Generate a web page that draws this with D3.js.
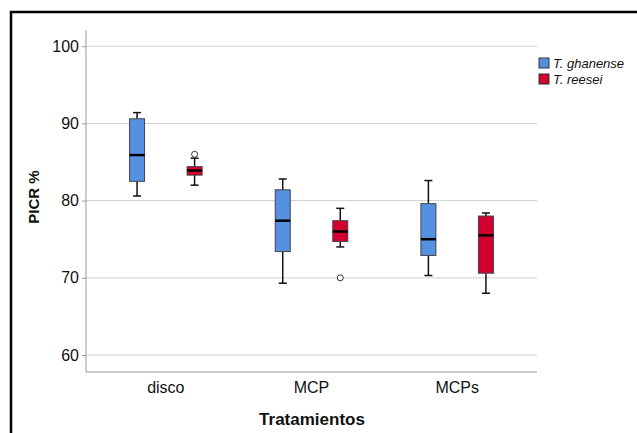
<!DOCTYPE html>
<html>
<head>
<meta charset="utf-8">
<script src="https://cdn.jsdelivr.net/npm/d3@7"></script>
<style>
  body { margin: 0; background: #fff; }
  text { font-family: "Liberation Sans", Arial, sans-serif; fill: #111; }
  .grid line { stroke: #d0d0d0; stroke-width: 1; }
  .axis-title { font-weight: bold; }
</style>
</head>
<body>
<div id="chart"></div>
<script>
// data
const categories = ["disco", "MCP", "MCPs"];
const groups = ["T. ghanense", "T. reesei"];
const groupColors = ["#5591e0", "#d3002f"];
const yTicks = [60, 70, 80, 90, 100];

// [whisker low, Q1, median, Q3, whisker high] per category
const ghanenseStats = [
  [80.6, 82.5, 85.9, 90.6, 91.4],
  [69.3, 73.4, 77.4, 81.4, 82.8],
  [70.3, 72.9, 75.0, 79.6, 82.6]
];
const reeseiStats = [
  [82.0, 83.3, 83.9, 84.4, 85.5],
  [74.0, 74.7, 76.0, 77.4, 79.0],
  [68.0, 70.6, 75.5, 78.0, 78.4]
];
const ghanenseOutliers = [[], [], []];
const reeseiOutliers = [[86.0], [70.0], []];

const width = 637, height = 433;
const plot = { left: 86, right: 537, top: 30, bottom: 372 };

const svg = d3.select("#chart").append("svg")
  .attr("width", width)
  .attr("height", height);

// outer frame
svg.append("rect")
  .attr("x", 11).attr("y", 12)
  .attr("width", 640).attr("height", 440)
  .attr("fill", "none")
  .attr("stroke", "#000")
  .attr("stroke-width", 2.5);

const y = d3.scaleLinear().domain([57.8, 102.1]).range([plot.bottom, plot.top]);
const x0 = d3.scaleBand().domain(categories).range([plot.left + 7, plot.right - 7]);
const bw = x0.bandwidth();
const x1 = d3.scaleBand().domain(groups).range([bw * 0.105, bw * 0.895]);
const color = d3.scaleOrdinal().domain(groups).range(groupColors);

// gridlines
svg.append("g")
  .attr("class", "grid")
  .selectAll("line")
  .data(yTicks)
  .enter()
  .append("line")
  .attr("x1", plot.left).attr("x2", plot.right)
  .attr("y1", d => y(d)).attr("y2", d => y(d));

// y axis
const yAxis = svg.append("g")
  .attr("transform", `translate(${plot.left},0)`)
  .call(d3.axisLeft(y).tickValues(yTicks).tickSize(4).tickPadding(3).tickSizeOuter(0));
yAxis.select(".domain").attr("stroke", "#999").attr("d", `M0,${plot.top}V${plot.bottom}`);
yAxis.selectAll(".tick line").attr("stroke", "#999");
yAxis.selectAll(".tick text").style("font-size", "16px").attr("fill", "#111");

// x axis
const xAxis = svg.append("g")
  .attr("transform", `translate(0,${plot.bottom})`)
  .call(d3.axisBottom(x0).tickSize(0).tickPadding(10));
xAxis.select(".domain").attr("stroke", "#999").attr("d", `M${plot.left},0H${plot.right}`);
xAxis.selectAll(".tick text").style("font-size", "16px").attr("fill", "#111");

// axis titles
svg.append("text")
  .attr("class", "axis-title")
  .attr("x", 312).attr("y", 425)
  .attr("text-anchor", "middle")
  .style("font-size", "17px")
  .text("Tratamientos");

svg.append("text")
  .attr("class", "axis-title")
  .attr("transform", "translate(39,197) rotate(-90)")
  .attr("text-anchor", "middle")
  .style("font-size", "15px")
  .text("PICR %");

// boxes
const boxW = 15, capW = 8;
const series = [
  { name: groups[0], stats: ghanenseStats, outliers: ghanenseOutliers },
  { name: groups[1], stats: reeseiStats, outliers: reeseiOutliers }
];

series.forEach(s => {
  const g = svg.append("g");
  categories.forEach((cat, i) => {
    const [lo, q1, med, q3, hi] = s.stats[i];
    const cx = x0(cat) + x1(s.name) + x1.bandwidth() / 2;

    // whiskers
    g.append("line")
      .attr("x1", cx).attr("x2", cx)
      .attr("y1", y(hi)).attr("y2", y(q3))
      .attr("stroke", "#111").attr("stroke-width", 1.5);
    g.append("line")
      .attr("x1", cx).attr("x2", cx)
      .attr("y1", y(q1)).attr("y2", y(lo))
      .attr("stroke", "#111").attr("stroke-width", 1.5);
    [lo, hi].forEach(v => {
      g.append("line")
        .attr("x1", cx - capW / 2).attr("x2", cx + capW / 2)
        .attr("y1", y(v)).attr("y2", y(v))
        .attr("stroke", "#111").attr("stroke-width", 1.5);
    });

    // box
    g.append("rect")
      .attr("x", cx - boxW / 2)
      .attr("y", y(q3))
      .attr("width", boxW)
      .attr("height", y(q1) - y(q3))
      .attr("fill", color(s.name))
      .attr("stroke", "#444")
      .attr("stroke-width", 1);

    // median
    g.append("line")
      .attr("x1", cx - boxW / 2).attr("x2", cx + boxW / 2)
      .attr("y1", y(med)).attr("y2", y(med))
      .attr("stroke", "#000").attr("stroke-width", 2.5);

    // outliers
    s.outliers[i].forEach(v => {
      g.append("circle")
        .attr("cx", cx).attr("cy", y(v))
        .attr("r", 3)
        .attr("fill", "#fff")
        .attr("stroke", "#333")
        .attr("stroke-width", 1);
    });
  });
});

// legend
const legend = svg.append("g").attr("transform", "translate(539,58)");
groups.forEach((name, i) => {
  const row = legend.append("g").attr("transform", `translate(0,${i * 16})`);
  row.append("rect")
    .attr("width", 10).attr("height", 10)
    .attr("fill", color(name))
    .attr("stroke", "#333")
    .attr("stroke-width", 1);
  row.append("text")
    .attr("x", 14).attr("y", 9.5)
    .style("font-size", "13px")
    .style("font-style", "italic")
    .text(name);
});
</script>
</body>
</html>
